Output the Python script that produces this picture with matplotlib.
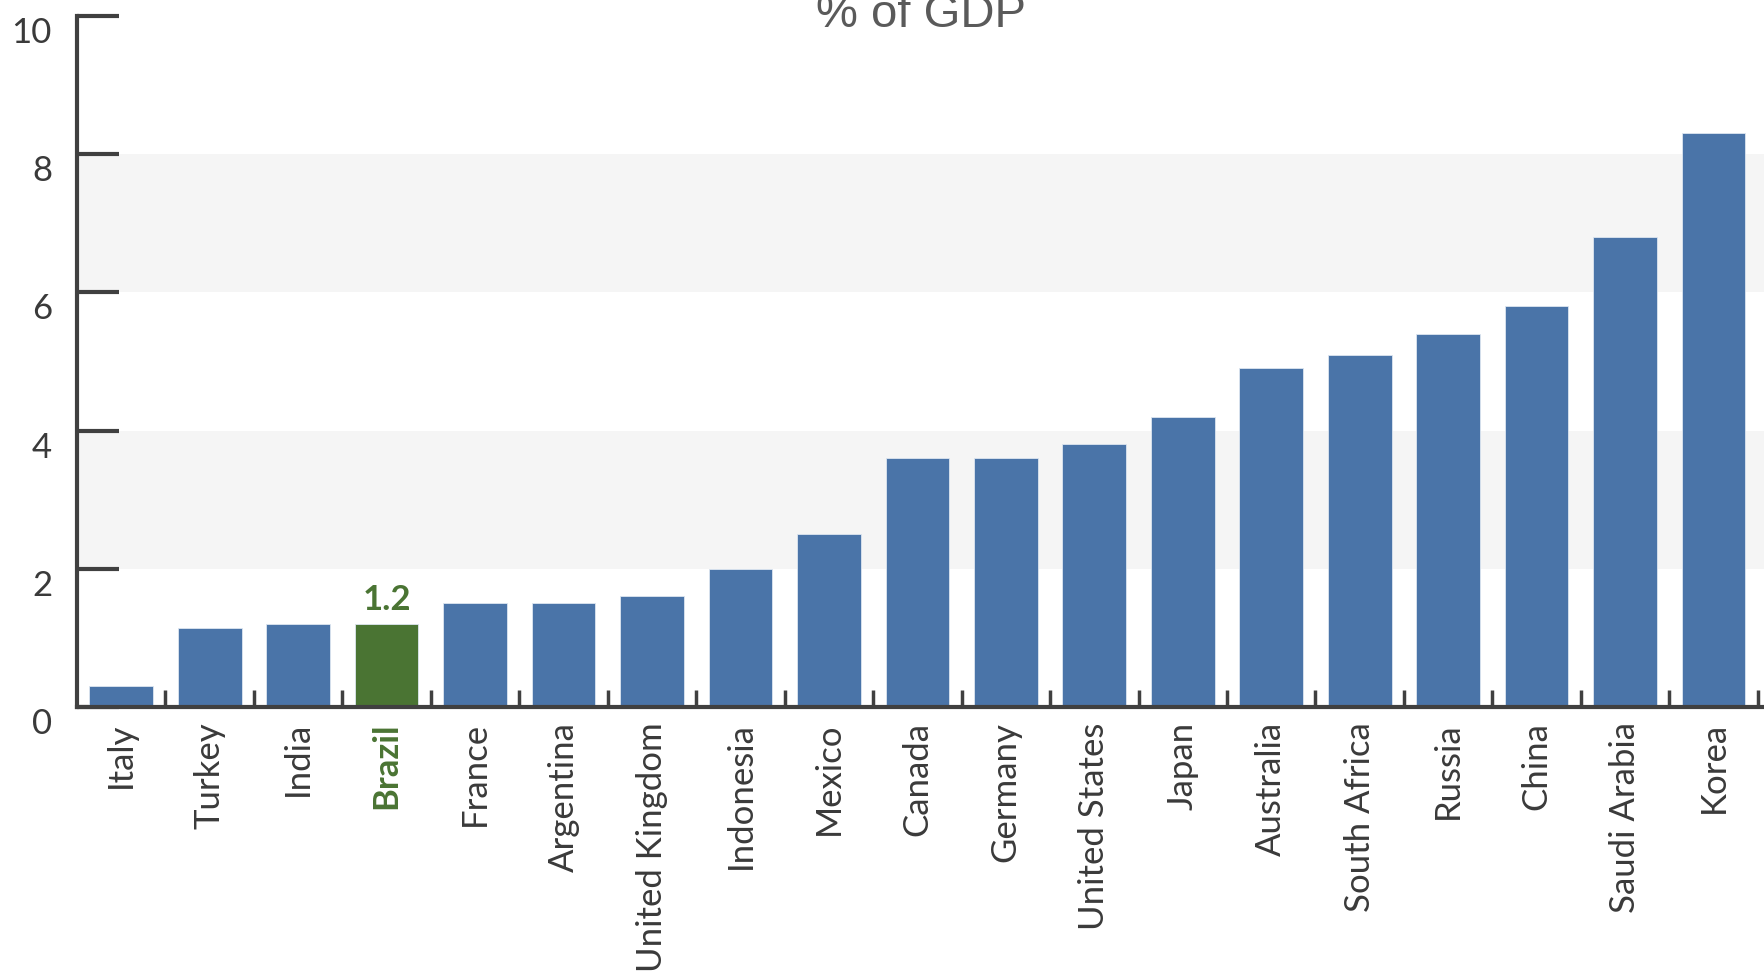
import numpy as np
import matplotlib
matplotlib.use("Agg")
import matplotlib.pyplot as plt
from matplotlib.transforms import ScaledTranslation

# Values in % of GDP, sorted ascending
countries = ['Italy', 'Turkey', 'India', 'Brazil', 'France', 'Argentina',
             'United Kingdom', 'Indonesia', 'Mexico', 'Canada', 'Germany',
             'United States', 'Japan', 'Australia', 'South Africa', 'Russia',
             'China', 'Saudi Arabia', 'Korea']
values = [0.3, 1.15, 1.2, 1.2, 1.5, 1.5, 1.6, 2.0, 2.5, 3.6, 3.6, 3.8, 4.2,
          4.9, 5.1, 5.4, 5.8, 6.8, 8.3]
highlight = 'Brazil'
yticks = [0, 2, 4, 6, 8, 10]

blue = '#4a74a8'
green = '#4a7433'
axis_col = '#404040'
label_font = 'Lato'

fig = plt.figure(figsize=(17.64, 9.77), dpi=100)
ax = fig.add_axes([77 / 1764, 1 - 707 / 977, 1 - 77 / 1764, (707 - 16) / 977])

x = np.arange(len(countries))
colors = [green if c == highlight else blue for c in countries]
ax.bar(x, values, width=0.72, color=colors, edgecolor='#dde6f0', linewidth=0.6, zorder=3)

# alternating light bands
for lo, hi in [(2, 4), (6, 8)]:
    ax.axhspan(lo, hi, color='#f5f5f5', zorder=0, lw=0)

ax.set_xlim(-0.5, 18.57)
ax.set_ylim(0, 10)

for s in ['top', 'right']:
    ax.spines[s].set_visible(False)
for s in ['left', 'bottom']:
    ax.spines[s].set_color(axis_col)
    ax.spines[s].set_linewidth(3)
    ax.spines[s].set_zorder(4)

ax.set_yticks(yticks)
ax.set_yticklabels([str(v) for v in yticks], fontsize=25, family=label_font, color='#3a3a3a')
ax.tick_params(axis='y', direction='in', length=30, width=3, color=axis_col, pad=18)
for lab in ax.get_yticklabels():
    lab.set_transform(lab.get_transform() + ScaledTranslation(0, -0.14, fig.dpi_scale_trans))

# category ticks sit between the bars
ax.set_xticks(x + 0.5)
ax.set_xticklabels([])
ax.tick_params(axis='x', direction='in', length=12, width=2.5, color=axis_col)

for i, c in enumerate(countries):
    hl = c == highlight
    ax.text(i, -0.22, c, rotation=90, ha='center', va='top', fontsize=25,
            family=label_font, color=green if hl else '#3a3a3a',
            fontweight='bold' if hl else 'normal', clip_on=False)

bi = countries.index(highlight)
ax.text(bi, values[bi] + 0.12, f'{values[bi]:.1f}', ha='center', va='bottom',
        fontsize=25, family=label_font, fontweight='bold', color=green)

fig.text(921 / 1764, 1 - 27 / 977, '% of GDP', ha='center', va='baseline',
         fontsize=34, family='Liberation Sans', color='#5a5a5a')

fig.savefig('out.png', dpi=100)
